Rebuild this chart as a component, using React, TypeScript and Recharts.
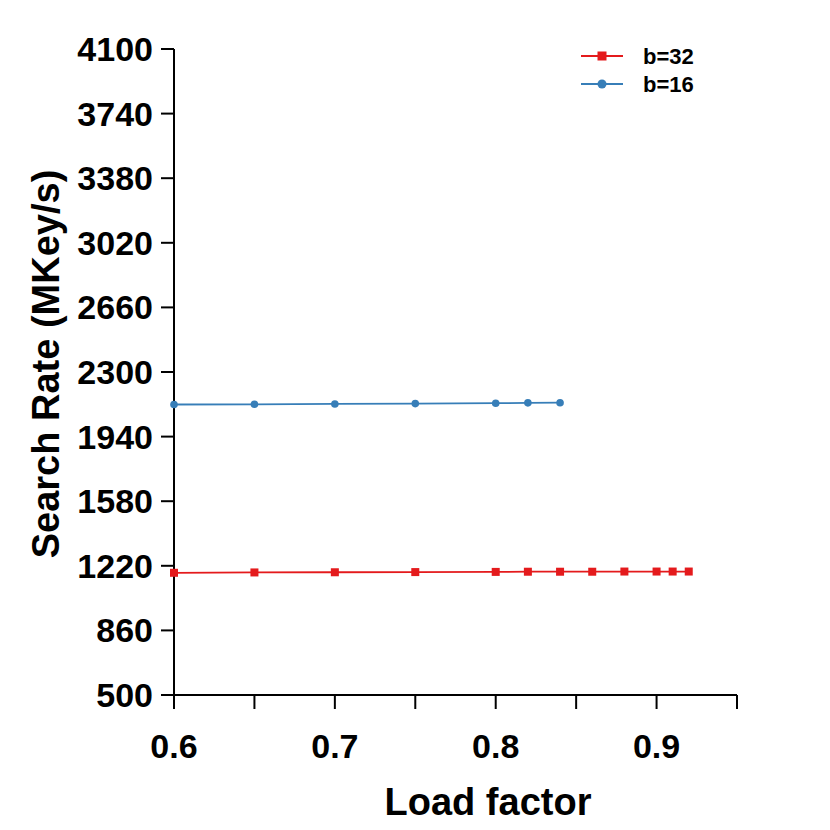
import React from "react";
import { LineChart, Line, XAxis, YAxis, Label } from "recharts";

const loadB32 = [0.6, 0.65, 0.7, 0.75, 0.8, 0.82, 0.84, 0.86, 0.88, 0.9, 0.91, 0.92];
const rateB32 = [1181, 1183, 1184, 1185, 1186, 1187, 1187, 1187, 1188, 1188, 1188, 1188];
const loadB16 = [0.6, 0.65, 0.7, 0.75, 0.8, 0.82, 0.84];
const rateB16 = [2119, 2120, 2122, 2124, 2126, 2128, 2129];
const xTicks = [0.6, 0.65, 0.7, 0.75, 0.8, 0.85, 0.9, 0.95];
const xTickLabels = ["0.6", "", "0.7", "", "0.8", "", "0.9", ""];
const yTicks = [500, 860, 1220, 1580, 1940, 2300, 2660, 3020, 3380, 3740, 4100];
const seriesNames = ["b=32", "b=16"];

const RED = "#e41a1c";
const BLUE = "#377eb8";
const FONT = "'Liberation Sans', Arial, Helvetica, sans-serif";

const dataB32 = loadB32.map((x, i) => ({ x, y: rateB32[i] }));
const dataB16 = loadB16.map((x, i) => ({ x, y: rateB16[i] }));

const SquareDot = (props: any) => {
  const { cx, cy, index } = props;
  if (cx == null || cy == null) return <g key={index} />;
  return <rect key={index} x={cx - 4} y={cy - 4} width={8} height={8} fill={RED} />;
};

const CircleDot = (props: any) => {
  const { cx, cy, index } = props;
  if (cx == null || cy == null) return <g key={index} />;
  return <circle key={index} cx={cx} cy={cy} r={3.8} fill={BLUE} />;
};

const XTick = (props: any) => {
  const { x, y, payload, index } = props;
  const i = xTicks.indexOf(payload.value);
  const label = i >= 0 ? xTickLabels[i] : "";
  return (
    <text
      x={x}
      y={y + 47}
      textAnchor="middle"
      fontFamily={FONT}
      fontWeight="bold"
      fontSize={34}
      fill="#000"
      key={index}
    >
      {label}
    </text>
  );
};

const LegendBox = () => (
  <svg width={150} height={64} style={{ display: "block" }}>
    <line x1={2} y1={18} x2={44} y2={18} stroke={RED} strokeWidth={1.8} />
    <rect x={18.5} y={13.5} width={9} height={9} fill={RED} />
    <text x={64} y={26} fontFamily={FONT} fontWeight="bold" fontSize={22} fill="#000">
      {seriesNames[0]}
    </text>
    <line x1={2} y1={46} x2={44} y2={46} stroke={BLUE} strokeWidth={1.8} />
    <circle cx={23} cy={46} r={4.5} fill={BLUE} />
    <text x={64} y={54} fontFamily={FONT} fontWeight="bold" fontSize={22} fill="#000">
      {seriesNames[1]}
    </text>
  </svg>
);

export default function App() {
  return (
    <div style={{ position: "relative", width: 814, height: 814, background: "#fff" }}>
      <LineChart
        width={814}
        height={814}
        margin={{ top: 41, right: 85, left: 0, bottom: 0 }}
      >
        <XAxis
          dataKey="x"
          type="number"
          domain={[0.6, 0.95]}
          ticks={xTicks}
          interval={0}
          height={127}
          tickSize={14}
          tick={XTick}
          axisLine={{ stroke: "#000", strokeWidth: 2 }}
          tickLine={{ stroke: "#000", strokeWidth: 2 }}
        >
          <Label
            content={() => (
              <text
                x={480}
                y={807}
                textAnchor="middle"
                fontFamily={FONT}
                fontWeight="bold"
                fontSize={38}
                fill="#000"
              >
                Load factor
              </text>
            )}
          />
        </XAxis>
        <YAxis
          type="number"
          domain={[500, 4100]}
          ticks={yTicks}
          interval={0}
          width={166}
          tickSize={13}
          tickMargin={8}
          tick={{ fontFamily: FONT, fontWeight: "bold", fontSize: 34, fill: "#000" }}
          axisLine={{ stroke: "#000", strokeWidth: 2 }}
          tickLine={{ stroke: "#000", strokeWidth: 2 }}
        >
          <Label
            content={() => (
              <text
                x={0}
                y={0}
                transform="translate(51,356) rotate(-90)"
                textAnchor="middle"
                fontFamily={FONT}
                fontWeight="bold"
                fontSize={38}
                fill="#000"
              >
                Search Rate (MKey/s)
              </text>
            )}
          />
        </YAxis>
        <Line
          data={dataB32}
          dataKey="y"
          name={seriesNames[0]}
          stroke={RED}
          strokeWidth={1.8}
          dot={SquareDot}
          activeDot={false}
          isAnimationActive={false}
        />
        <Line
          data={dataB16}
          dataKey="y"
          name={seriesNames[1]}
          stroke={BLUE}
          strokeWidth={1.8}
          dot={CircleDot}
          activeDot={false}
          isAnimationActive={false}
        />
      </LineChart>
      <div style={{ position: "absolute", top: 30, left: 571 }}>
        <LegendBox />
      </div>
    </div>
  );
}
